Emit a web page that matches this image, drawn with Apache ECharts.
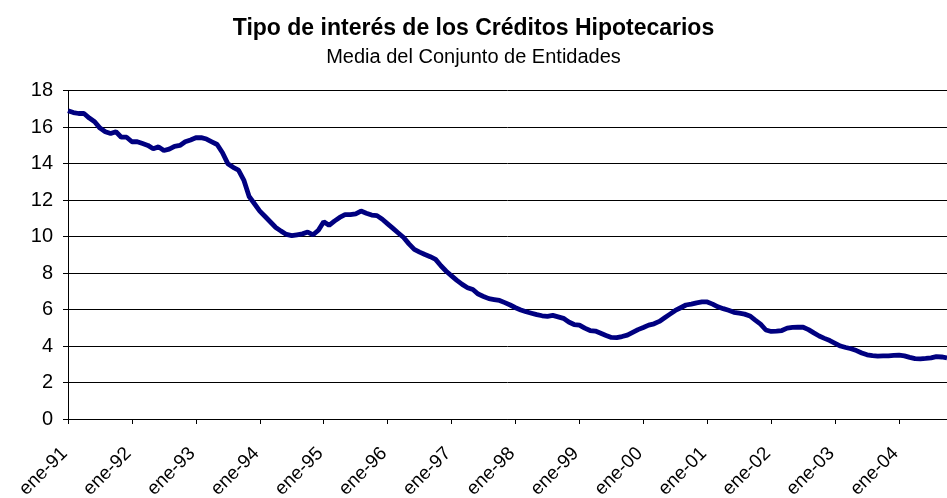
<!DOCTYPE html>
<html>
<head>
<meta charset="utf-8">
<script src="https://cdn.jsdelivr.net/npm/echarts@6/dist/echarts.min.js"></script>
<style>
  html, body { margin: 0; padding: 0; background: #fff; }
  #chart { width: 947px; height: 498px; }
</style>
</head>
<body>
<div id="chart"></div>
<script>
// meses y años (ene-91 .. oct-04)
var meses = ['ene','feb','mar','abr','may','jun','jul','ago','sep','oct','nov','dic'];
var anios = ['91','92','93','94','95','96','97','98','99','00','01','02','03','04'];

// tipo medio mensual (%)
var tipos = [
  16.90,16.80,16.75,16.75,16.50,16.30,15.95,15.75,15.65,15.75,15.45,15.45,
  15.20,15.20,15.10,15.00,14.82,14.92,14.72,14.80,14.95,15.00,15.20,15.30,
  15.42,15.43,15.35,15.20,15.05,14.60,14.00,13.80,13.65,13.10,12.20,11.80,
  11.40,11.10,10.80,10.50,10.30,10.12,10.05,10.10,10.15,10.25,10.10,10.35,
  10.82,10.62,10.85,11.05,11.20,11.20,11.25,11.40,11.28,11.18,11.15,10.95,
  10.70,10.45,10.20,9.95,9.60,9.30,9.15,9.02,8.90,8.75,8.40,8.10,
  7.85,7.60,7.38,7.20,7.10,6.85,6.72,6.60,6.55,6.50,6.38,6.25,
  6.10,5.98,5.88,5.80,5.72,5.66,5.63,5.68,5.60,5.52,5.32,5.18,
  5.15,4.98,4.85,4.82,4.70,4.58,4.47,4.46,4.52,4.60,4.75,4.90,
  5.02,5.15,5.22,5.35,5.55,5.75,5.95,6.10,6.25,6.30,6.37,6.42,
  6.42,6.30,6.15,6.05,5.96,5.85,5.80,5.75,5.65,5.42,5.20,4.88,
  4.80,4.82,4.85,4.98,5.02,5.03,5.03,4.90,4.72,4.55,4.42,4.30,
  4.15,4.00,3.92,3.85,3.75,3.62,3.52,3.47,3.45,3.46,3.46,3.49,
  3.50,3.46,3.38,3.31,3.30,3.32,3.35,3.42,3.40,3.35
];

var categorias = [];
for (var i = 0; i < tipos.length; i++) {
  categorias.push(meses[i % 12] + '-' + anios[Math.floor(i / 12)]);
}

var chart = echarts.init(document.getElementById('chart'));
var option = {
  animation: false,
  backgroundColor: '#fff',
  textStyle: { fontFamily: 'Liberation Sans, Arial, sans-serif', color: '#000' },
  title: {
    text: 'Tipo de interés de los Créditos Hipotecarios',
    subtext: 'Media del Conjunto de Entidades',
    left: 'center',
    top: 12,
    itemGap: 7,
    textStyle: { fontSize: 23, fontWeight: 'bold', color: '#000' },
    subtextStyle: { fontSize: 20, color: '#000' }
  },
  grid: { left: 68, right: 0, top: 90.7, bottom: 79, outerBoundsMode: 'none' },
  xAxis: {
    type: 'category',
    boundaryGap: false,
    data: categorias,
    axisLine: { lineStyle: { color: '#000', width: 1 } },
    axisTick: { interval: 11, length: 5, lineStyle: { color: '#000' } },
    axisLabel: { interval: 11, rotate: 45, fontSize: 19, color: '#000', margin: 28, padding: [0, 5, 0, 0] },
    splitLine: { show: false }
  },
  yAxis: {
    type: 'value',
    min: 0, max: 18, interval: 2,
    axisLine: { show: true, lineStyle: { color: '#000', width: 1 } },
    axisTick: { show: true, length: 5, lineStyle: { color: '#000' } },
    axisLabel: { fontSize: 20, color: '#000', margin: 15 },
    splitLine: { lineStyle: { color: '#000', width: 1 } }
  },
  series: [{
    type: 'line',
    data: tipos,
    showSymbol: false,
    lineStyle: { color: '#000080', width: 4.8 },
    itemStyle: { color: '#000080' }
  }]
};
chart.setOption(option);
</script>
</body>
</html>
